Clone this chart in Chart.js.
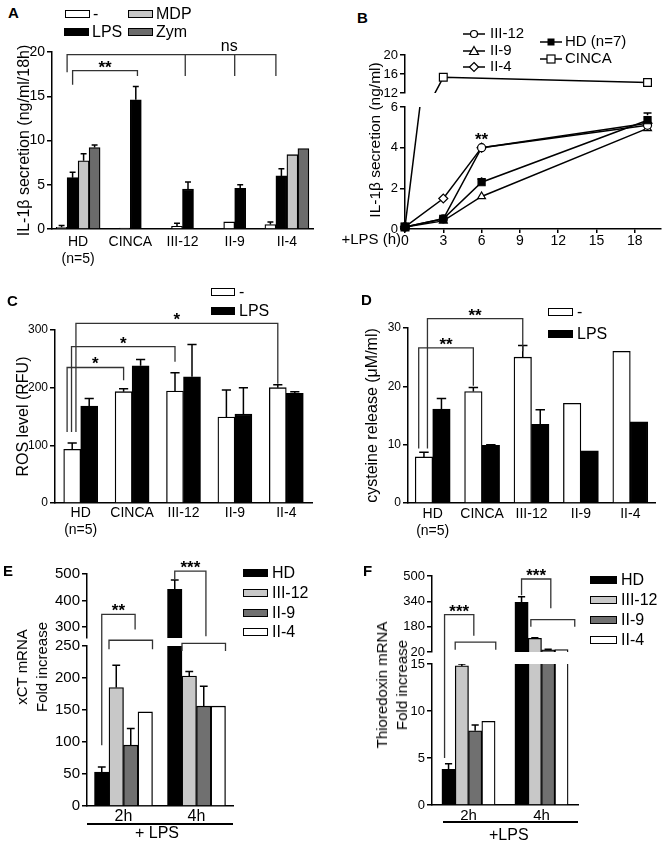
<!DOCTYPE html>
<html>
<head>
<meta charset="utf-8">
<title>IL-1β, ROS, cysteine, xCT and thioredoxin</title>
<script src="https://cdn.jsdelivr.net/npm/chart.js@4.4.1/dist/chart.umd.min.js"></script>
<style>
  body { margin: 0; background: #fff; }
  #fig { position: relative; width: 667px; height: 843px; overflow: hidden; background: #fff;
         font-family: Arial, "Liberation Sans", sans-serif; color: #000; }
  #fig canvas, #fig .t, #fig .box, #fig .sym, #fig .hr { position: absolute; }
  .t { white-space: pre; }
  .box { box-sizing: border-box; border: 1.5px solid #000; }
  .rot { transform: translate(-50%, -50%) rotate(-90deg); text-align: center; }
  .hr { height: 1.5px; background: #000; }
</style>
</head>
<body>
<div id="fig">
  <canvas id="chartA" width="330" height="250" style="left:0;top:30px"></canvas>
  <canvas id="chartB" width="337" height="215" style="left:330px;top:40px"></canvas>
  <canvas id="chartC" width="330" height="260" style="left:0;top:300px"></canvas>
  <canvas id="chartD" width="337" height="260" style="left:330px;top:300px"></canvas>
  <canvas id="chartE" width="240" height="283" style="left:0;top:560px"></canvas>
  <canvas id="chartF" width="260" height="283" style="left:330px;top:560px"></canvas>
</div>
<script>
const FAMILY = 'Arial, "Liberation Sans", sans-serif';
Chart.defaults.font.family = FAMILY;
Chart.defaults.color = "#000";

// A: IL-1β secretion after 18h
const groups = [["HD", "(n=5)"], "CINCA", "III-12", "II-9", "II-4"];
const aNames = ["-", "LPS", "MDP", "Zym"];
const aNone = [0.2, 0.1, 0.3, 0.8, 0.5];
const aNoneErr = [0.4, null, 0.65, null, 0.8];
const aLps = [5.8, 14.6, 4.5, 4.6, 6.0];
const aLpsErr = [6.4, 16.1, 5.3, 5.0, 6.8];
const aMdp = [7.7, null, null, null, 8.4];
const aMdpErr = [8.5, null, null, null, null];
const aZym = [9.2, null, null, null, 9.1];
const aZymErr = [9.5, null, null, null, null];
const aTicks = [0, 5, 10, 15, 20];

// B: IL-1β kinetics
const bHours = [0, 3, 6, 19];
const bNames = ["HD (n=7)", "III-12", "II-9", "II-4", "CINCA"];
const bHD = [0.1, 0.5, 2.3, 5.35];
const bHDErr = [null, null, 2.45, 5.7];
const bIII12 = [0.1, 0.5, 4.0, 5.1];
const bII9 = [0.1, 0.4, 1.6, 4.95];
const bII4 = [0.1, 1.5, 4.0, 5.2];
const bCINCA = [0.1, 15.3, null, 14.2];
const bTicksX = [0, 3, 6, 9, 12, 15, 18];
const bTicksLow = [0, 2, 4, 6];
const bTicksHigh = [12, 16, 20];

// C: ROS
const cdNames = ["-", "LPS"];
const cNone = [93, 193, 194, 149, 200];
const cNoneErr = [104, 198, 226, 196, 205];
const cLps = [168, 238, 219, 154, 190];
const cLpsErr = [181, 249, 275, 200, 193];
const cTicks = [0, 100, 200, 300];

// D: cysteine release
const dNone = [7.9, 19.1, 25.0, 17.1, 26.0];
const dNoneErr = [8.7, 19.8, 27.0, null, null];
const dLps = [16.1, 9.9, 13.5, 8.95, 13.9];
const dLpsErr = [17.9, 10.0, 16.0, null, null];
const dTicks = [0, 10, 20, 30];

// E, F: mRNA fold increase
const times = ["2h", "4h"];
const efNames = ["HD", "III-12", "II-9", "II-4"];
const eHD = [53, 442];
const eHDErr = [61, 477];
const eIII12 = [185, 203];
const eIII12Err = [220, 210];
const eII9 = [95, 156];
const eII9Err = [121, 187];
const eII4 = [147, 156];
const eTicksLow = [0, 50, 100, 150, 200, 250];
const eTicksHigh = [300, 400, 500];
const fHD = [3.8, 334];
const fHDErr = [4.4, 369];
const fIII12 = [14.8, 106];
const fIII12Err = [15.0, 110];
const fII9 = [7.9, 34];
const fII9Err = [8.5, 38];
const fII4 = [8.9, 36];
const fTicksLow = [0, 5, 10, 15];
const fTicksHigh = [20, 180, 340, 500];

// significance brackets: ends are [dataset, index, offset in bar widths, axis, value]
const aBrackets = [
  { top: ["y", 19.7], a: [0, 0, 0.5, "y", 17.7], b: [0, 4, 0.5, "y", 17.3],
    ticks: [[1, 2, -0.25, "y", 17.3], [0, 3, 0.5, "y", 17.3]], label: "ns", lx: [0, 3, 0] },
  { top: ["y", 17.9], a: [1, 0, 0, "y", 16.3], b: [1, 1, 0.15, "y", 17.3], label: "**" },
];
const bBrackets = [{ label: "**", lx: [0, 2, 0], ly: ["y", 4.25] }];
const cBrackets = [
  { top: ["y", 311.5], a: [0, 0, 0.22, "y", 123], b: [0, 4, 0, "y", 207], label: "*" },
  { top: ["y", 271], a: [0, 0, -0.04, "y", 123], b: [0, 2, 0, "y", 245], label: "*" },
  { top: ["y", 235], a: [0, 0, -0.3, "y", 123], b: [0, 1, 0, "y", 213], label: "*" },
];
const dBrackets = [
  { top: ["y", 31.6], a: [0, 0, 0.2, "y", 9.35], b: [0, 2, 0, "y", 26.0], label: "**" },
  { top: ["y", 26.6], a: [0, 0, -0.3, "y", 9.35], b: [0, 1, 0, "y", 20.1], label: "**" },
];
const eBrackets = [
  { top: ["yTop", 347], a: [0, 0, 0, "y", 95], b: [2, 0, 0.3, "yTop", 290], label: "**" },
  { top: ["y", 259], a: [1, 0, -0.5, "y", 245], b: [3, 0, 0.5, "y", 245] },
  { top: ["yTop", 511], a: [0, 1, 0, "yTop", 480], b: [2, 1, 0.15, "yTop", 265], label: "***" },
  { top: ["y", 254], a: [1, 1, -0.5, "y", 242], b: [3, 1, 0.5, "y", 242] },
];
const fBrackets = [
  { top: ["yTop", 256], a: [0, 0, -0.3, "y", 5.0], b: [2, 0, -0.1, "yTop", 123], label: "***" },
  { top: ["yTop", 82], a: [1, 0, -0.5, "yTop", 34], b: [3, 0, 0.55, "yTop", 34] },
  { top: ["yTop", 481], a: [0, 1, 0, "yTop", 379], b: [2, 1, 0.2, "yTop", 297], label: "***" },
  { top: ["yTop", 225], a: [1, 1, -0.3, "yTop", 180], b: [3, 1, 1.0, "yTop", 180] },
];

// clips each dataset to its own y axis (broken axes), draws error bars and brackets
function marks(brackets) {
  return {
    id: "marks",
    beforeDatasetDraw(chart, args) {
      const ys = chart.scales[args.meta.yAxisID];
      const area = chart.chartArea;
      const ctx = chart.ctx;
      const top = ys.top > area.top + 1 ? ys.top : ys.top - 10;
      const bottom = ys.bottom < area.bottom - 1 ? ys.bottom : ys.bottom + 10;
      ctx.save();
      ctx.beginPath();
      ctx.rect(area.left - 10, top, area.width + 20, bottom - top);
      ctx.clip();
    },
    afterDatasetDraw(chart, args) {
      const ds = chart.data.datasets[args.index];
      const ctx = chart.ctx;
      if (ds.err) {
        const ys = chart.scales[args.meta.yAxisID];
        ctx.strokeStyle = "#000";
        ctx.lineWidth = 1.5;
        args.meta.data.forEach((el, i) => {
          const e = ds.err[i];
          if (e == null || el.skip) return;
          const y = ys.getPixelForValue(e);
          const half = el.width ? el.width * 0.27 : 4;
          const y0 = el.width ? el.y : el.y - (el.options.radius || 0);
          ctx.beginPath();
          ctx.moveTo(el.x, y0);
          ctx.lineTo(el.x, y);
          ctx.moveTo(el.x - half, y);
          ctx.lineTo(el.x + half, y);
          ctx.stroke();
        });
      }
      ctx.restore();
    },
    afterDatasetsDraw(chart) {
      const ctx = chart.ctx;
      const X = (p) => {
        const el = chart.getDatasetMeta(p[0]).data[p[1]];
        return el.x + (p[2] || 0) * (el.width || 0);
      };
      const Y = (axis, v) => chart.scales[axis].getPixelForValue(v);
      ctx.save();
      ctx.strokeStyle = "#333";
      ctx.lineWidth = 1.3;
      ctx.fillStyle = "#000";
      brackets.forEach((b) => {
        let xa, xb, yt;
        if (b.top) {
          yt = Y(b.top[0], b.top[1]);
          xa = X(b.a);
          xb = X(b.b);
          ctx.beginPath();
          ctx.moveTo(xa, Y(b.a[3], b.a[4]));
          ctx.lineTo(xa, yt);
          ctx.lineTo(xb, yt);
          ctx.lineTo(xb, Y(b.b[3], b.b[4]));
          (b.ticks || []).forEach((t) => {
            const x = X(t);
            ctx.moveTo(x, yt);
            ctx.lineTo(x, Y(t[3], t[4]));
          });
          ctx.stroke();
        }
        if (b.label) {
          const star = b.label.includes("*");
          const lx = b.lx ? X(b.lx) : (xa + xb) / 2;
          const ly = b.ly ? Y(b.ly[0], b.ly[1]) : yt;
          ctx.font = (star ? "bold 17px " : "16px ") + FAMILY;
          ctx.textAlign = "center";
          ctx.textBaseline = "alphabetic";
          ctx.fillText(b.label, lx, ly + (star ? 2 : -4));
        }
      });
      ctx.restore();
    },
  };
}

function valueAxis(ticks, size, width, extra) {
  return Object.assign({
    type: "linear",
    position: "left",
    min: ticks[0],
    max: ticks[ticks.length - 1],
    stacked: false,
    border: { color: "#000", width: 1.5 },
    grid: { drawOnChartArea: false, tickLength: 5, color: "#000", lineWidth: 1.5 },
    ticks: { font: { size }, padding: 2, color: "#000", autoSkip: false },
    afterBuildTicks: (ax) => { ax.ticks = ticks.map((v) => ({ value: v })); },
    afterFit: (ax) => { ax.width = width; },
  }, extra);
}

function gapAxis(stack, weight) {
  return { type: "linear", position: "left", display: false, stack, stackWeight: weight, weight: 2 };
}

function catAxis(height, size, padding) {
  return {
    border: { color: "#000", width: 1.5 },
    grid: { display: false, drawTicks: false },
    ticks: { font: { size }, padding, color: "#000", maxRotation: 0, autoSkip: false },
    afterFit: (ax) => { ax.height = height; },
  };
}

function baseOptions(padding, scales) {
  return {
    responsive: false,
    animation: false,
    events: [],
    layout: { padding },
    plugins: { legend: { display: false }, tooltip: { enabled: false } },
    scales,
  };
}

function barSet(label, data, err, color, thickness, extra) {
  return Object.assign({
    label, data, err,
    backgroundColor: color,
    borderColor: "#000",
    borderWidth: 1.3,
    barThickness: thickness,
    clip: false,
  }, extra);
}

function yTitle(text, size) {
  return { display: true, text, font: { size }, color: "#000", padding: 0 };
}

// ---- A ----
const aColors = ["#fff", "#000", "#c6c6c6", "#6b6b6b"];
const aSeries = [aNone, aLps, aMdp, aZym];
const aErrs = [aNoneErr, aLpsErr, aMdpErr, aZymErr];
new Chart(document.getElementById("chartA"), {
  type: "bar",
  data: {
    labels: groups,
    datasets: aSeries.map((d, k) => barSet(aNames[k], d, aErrs[k], aColors[k], 11, { skipNull: true })),
  },
  options: baseOptions({ left: 15, top: 22, right: 17, bottom: 0 }, {
    x: catAxis(51, 14, 5),
    y: valueAxis(aTicks, 14, 37, { title: yTitle("IL-1β secretion (ng/ml/18h)", 16) }),
  }),
  plugins: [marks(aBrackets)],
});

// ---- B ----
function lineSet(label, ys, err, style, fill, axis, radius) {
  return {
    label,
    data: bHours.map((h, i) => ({ x: h, y: ys[i] })),
    err,
    yAxisID: axis,
    borderColor: "#000",
    borderWidth: 1.5,
    pointStyle: style,
    pointRadius: radius,
    pointBackgroundColor: fill,
    pointBorderColor: "#000",
    pointBorderWidth: 1.2,
    spanGaps: true,
    clip: false,
  };
}
new Chart(document.getElementById("chartB"), {
  type: "line",
  data: {
    datasets: [
      lineSet(bNames[0], bHD, bHDErr, "rect", "#000", "y", 5),
      lineSet(bNames[1], bIII12, null, "circle", "#fff", "y", 4),
      lineSet(bNames[2], bII9, null, "triangle", "#fff", "y", 4.5),
      lineSet(bNames[3], bII4, null, "rectRot", "#fff", "y", 4.5),
      lineSet(bNames[4], bCINCA, null, "rect", "#fff", "y", 5.5),
      lineSet(bNames[4], bCINCA, null, "rect", "#fff", "yTop", 5.5),
    ],
  },
  options: baseOptions({ left: 0, top: 15, right: 4, bottom: 0 }, {
    x: {
      type: "linear",
      min: 0,
      max: 20,
      border: { color: "#000", width: 1.5 },
      grid: { drawOnChartArea: false, tickLength: 4, color: "#000", lineWidth: 1.5 },
      ticks: { font: { size: 14 }, padding: 0, color: "#000", autoSkip: false, maxRotation: 0 },
      afterBuildTicks: (ax) => { ax.ticks = bTicksX.map((v) => ({ value: v })); },
      afterFit: (ax) => { ax.height = 26; },
    },
    yTop: valueAxis(bTicksHigh, 13, 75, { stack: "b", stackWeight: 38, weight: 3 }),
    yGap: gapAxis("b", 14),
    y: valueAxis(bTicksLow, 13, 75, { stack: "b", stackWeight: 122, weight: 1 }),
  }),
  plugins: [marks(bBrackets)],
});

// ---- C ----
new Chart(document.getElementById("chartC"), {
  type: "bar",
  data: {
    labels: groups,
    datasets: [
      barSet(cdNames[0], cNone, cNoneErr, "#fff", 17),
      barSet(cdNames[1], cLps, cLpsErr, "#000", 17),
    ],
  },
  options: baseOptions({ left: 14, top: 30, right: 18, bottom: 0 }, {
    x: catAxis(57, 14, 2),
    y: valueAxis(cTicks, 12, 41, { title: yTitle("ROS level (RFU)", 16) }),
  }),
  plugins: [marks(cBrackets)],
});

// ---- D ----
new Chart(document.getElementById("chartD"), {
  type: "bar",
  data: {
    labels: groups,
    datasets: [
      barSet(cdNames[0], dNone, dNoneErr, "#fff", 17.5),
      barSet(cdNames[1], dLps, dLpsErr, "#000", 17.5),
    ],
  },
  options: baseOptions({ left: 33.4, top: 28, right: 12, bottom: 0 }, {
    x: catAxis(57, 14, 3),
    y: valueAxis(dTicks, 12, 44.6, { title: yTitle("cysteine release (μM/ml)", 16) }),
  }),
  plugins: [marks(dBrackets)],
});

// ---- E, F ----
const efColors = ["#000", "#c8c8c8", "#707070", "#fff"];
function efSets(series, errs, thickness) {
  const sets = [];
  ["y", "yTop"].forEach((axis) => {
    series.forEach((d, k) => {
      sets.push(barSet(efNames[k], d, errs[k], efColors[k], thickness, { yAxisID: axis, stack: efNames[k] }));
    });
  });
  return sets;
}
new Chart(document.getElementById("chartE"), {
  type: "bar",
  data: { labels: times, datasets: efSets([eHD, eIII12, eII9, eII4], [eHDErr, eIII12Err, eII9Err, null], 14.5) },
  options: baseOptions({ left: 0, top: 14, right: 7, bottom: 0 }, {
    x: catAxis(37, 16, 1),
    yTop: valueAxis(eTicksHigh, 15, 87, { min: 258, stack: "e", stackWeight: 64, weight: 3 }),
    yGap: gapAxis("e", 8),
    y: valueAxis(eTicksLow, 15, 87, { stack: "e", stackWeight: 160, weight: 1 }),
  }),
  plugins: [marks(eBrackets)],
});
new Chart(document.getElementById("chartF"), {
  type: "bar",
  data: { labels: times, datasets: efSets([fHD, fIII12, fII9, fII4], [fHDErr, fIII12Err, fII9Err, null], 13.3) },
  options: baseOptions({ left: 0, top: 16, right: 12, bottom: 0 }, {
    x: catAxis(38, 15, 2),
    yTop: valueAxis(fTicksHigh, 13, 102, { stack: "f", stackWeight: 76, weight: 3 }),
    yGap: gapAxis("f", 12),
    y: valueAxis(fTicksLow, 13, 102, { stack: "f", stackWeight: 141, weight: 1 }),
  }),
  plugins: [marks(fBrackets)],
});

// ---- text, legends ----
const fig = document.getElementById("fig");
function text(str, x, yc, size, extra) {
  const el = document.createElement("div");
  el.className = "t";
  el.textContent = str;
  el.style.cssText = `left:${x}px;top:${yc - size / 2}px;font-size:${size}px;line-height:${size}px;` + (extra || "");
  fig.appendChild(el);
  return el;
}
function swatch(x, y, w, h, color) {
  const el = document.createElement("div");
  el.className = "box";
  el.style.cssText = `left:${x}px;top:${y}px;width:${w}px;height:${h}px;background:${color};`;
  fig.appendChild(el);
}
function vtitle(lines, cx, cy, size) {
  const el = document.createElement("div");
  el.className = "t rot";
  el.textContent = lines.join("\n");
  el.style.cssText = `left:${cx}px;top:${cy}px;font-size:${size}px;line-height:20px;`;
  fig.appendChild(el);
}
function hr(x, y, w) {
  const el = document.createElement("div");
  el.className = "hr";
  el.style.cssText = `left:${x}px;top:${y}px;width:${w}px;`;
  fig.appendChild(el);
}

// panel letters
[["A", 8, 12.5], ["B", 357, 17.5], ["C", 7, 300.5], ["D", 361, 299], ["E", 3, 570], ["F", 363, 570]]
  .forEach(([l, x, y]) => text(l, x, y, 15, "font-weight:bold;"));

// A legend (2 x 2)
[[0, 65, 10], [2, 128, 10], [1, 64, 28], [3, 128, 28]].forEach(([k, x, y]) => {
  swatch(x, y, 25, 8, aColors[k]);
  text(aNames[k], x + 28, y + 4, 16);
});

// B legend
const bSym = [
  '<rect x="7.5" y="2.5" width="7" height="7" fill="#000"/>',
  '<circle cx="11" cy="6" r="3.5" fill="#fff" stroke="#000" stroke-width="1.2"/>',
  '<polygon points="11,1.5 15.5,9.5 6.5,9.5" fill="#fff" stroke="#000" stroke-width="1.2"/>',
  '<polygon points="11,1.5 15.5,6 11,10.5 6.5,6" fill="#fff" stroke="#000" stroke-width="1.2"/>',
  '<rect x="7" y="2" width="8" height="8" fill="#fff" stroke="#000" stroke-width="1.2"/>',
];
[[1, 463, 32, 490], [2, 463, 49, 490], [3, 463, 65, 490], [0, 540, 40, 565], [4, 540, 57, 565]].forEach(([k, x, y, tx]) => {
  const s = document.createElement("div");
  s.className = "sym";
  s.style.cssText = `left:${x}px;top:${y - 6}px;width:22px;height:12px;`;
  s.innerHTML = '<svg width="22" height="12"><line x1="0" y1="6" x2="22" y2="6" stroke="#000" stroke-width="1.5"/>' + bSym[k] + "</svg>";
  fig.appendChild(s);
  text(bNames[k], tx, y, 15);
});
vtitle(["IL-1β secretion (ng/ml)"], 375, 140, 15.5);
text("+LPS (h)", 0, 238, 15, "right:266px;left:auto;text-align:right;");

// C, D legends
[[0, 288], [1, 307]].forEach(([k, y]) => {
  swatch(211, y, 24, 8, k ? "#000" : "#fff");
  text(cdNames[k], 239, y + 4, 16);
});
[[0, 308], [1, 330]].forEach(([k, y]) => {
  swatch(548, y, 25, 8, k ? "#000" : "#fff");
  text(cdNames[k], 577, y + 4, 16);
});

// E, F legends and labels
[569, 589, 609, 628].forEach((y, k) => {
  swatch(243, y, 25, 8, efColors[k]);
  text(efNames[k], 272, y + 4, 16);
});
[576, 596, 616, 636].forEach((y, k) => {
  swatch(590, y, 27, 8, efColors[k]);
  text(efNames[k], 621, y + 4, 16);
});
vtitle(["xCT mRNA", "Fold increase"], 32, 667, 15);
vtitle(["Thioredoxin mRNA", "Fold increase"], 392, 685, 15);
hr(87, 823, 146);
text("+ LPS", 135, 833, 16);
hr(443, 821, 135);
text("+LPS", 489, 835, 16);
</script>
</body>
</html>
